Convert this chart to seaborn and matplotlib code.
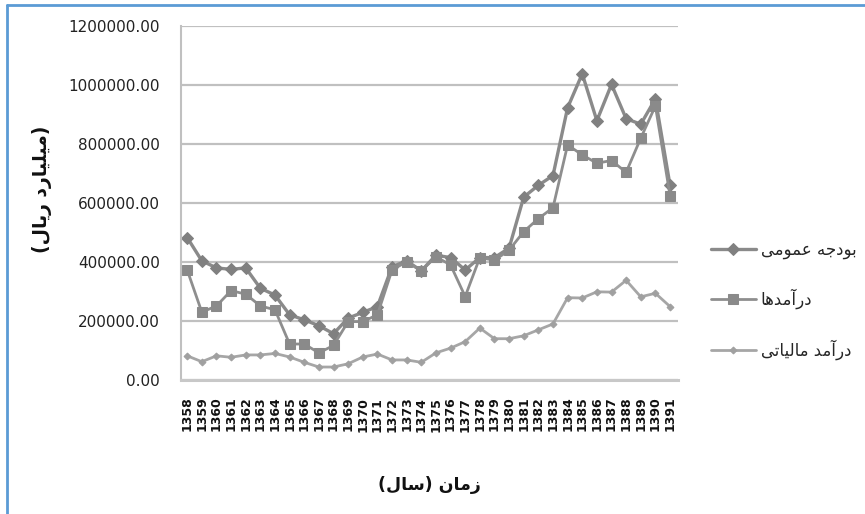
import pandas as pd
import matplotlib.pyplot as plt
from matplotlib.lines import Line2D
import seaborn as sns

# years on the x axis (categories)
years = [1358, 1359, 1360, 1361, 1362, 1363, 1364, 1365, 1366, 1367, 1368,
         1369, 1370, 1371, 1372, 1373, 1374, 1375, 1376, 1377, 1378, 1379,
         1380, 1381, 1382, 1383, 1384, 1385, 1386, 1387, 1388, 1389, 1390, 1391]

# general budget (بودجه عمومی)
budget = [483000, 404000, 380000, 375000, 380000, 311000, 288000, 221000,
          204000, 184000, 157000, 210000, 229000, 249000, 384000, 404000,
          370000, 423000, 415000, 373000, 415000, 415000, 447000, 620000,
          660000, 693000, 923000, 1038000, 879000, 1002000, 886000, 867000,
          953000, 660000]

# revenues (درآمدها)
revenue = [373000, 230000, 251000, 303000, 291000, 251000, 238000, 122000,
           122000, 92000, 117000, 198000, 198000, 221000, 373000, 401000,
           370000, 418000, 390000, 283000, 415000, 406000, 440000, 503000,
           547000, 584000, 797000, 763000, 735000, 744000, 704000, 820000,
           929000, 625000]

# tax revenue (درآمد مالیاتی)
tax = [82000, 62000, 82000, 77000, 85000, 85000, 90000, 78000, 60000, 44000,
       44000, 55000, 78000, 88000, 68000, 68000, 60000, 92000, 108000, 130000,
       176000, 140000, 140000, 150000, 170000, 190000, 279000, 278000, 299000,
       298000, 338000, 282000, 294000, 249000]

y_ticks = [0, 200000, 400000, 600000, 800000, 1000000, 1200000]

# Persian labels, written as presentation forms in visual (left-to-right) order
lbl_budget = "\uFEF0\uFEE3\uFEEE\uFEE4\uFECB \uFEEA\uFE9F\uFEA9\uFEEE\uFE91"   # بودجه عمومی
lbl_revenue = "\uFE8E\uFEEB\uFEAA\uFEE3\uFE81\uFEAD\uFEA9"                    # درآمدها
lbl_tax = "\uFEF0\uFE97\uFE8E\uFEF4\uFEDF\uFE8E\uFEE3 \uFEAA\uFEE3\uFE81\uFEAD\uFEA9"  # درآمد مالیاتی
x_title = "(\uFEDD\uFE8E\uFEB3) \uFEE5\uFE8E\uFEE3\uFEAF"                     # زمان (سال)
y_title = "(\uFEDD\uFE8E\uFEF3\uFEAD \uFEA9\uFEAD\uFE8E\uFEF4\uFEE0\uFEF4\uFEE3)"  # (میلیارد ریال)

sns.set_style("white")
plt.rcParams['font.family'] = ['DejaVu Sans']

df = pd.DataFrame({"pos": range(len(years)), "budget": budget,
                   "revenue": revenue, "tax": tax})

fig = plt.figure(figsize=(8.65, 5.14), dpi=100)
ax = fig.add_axes([0.2093, 0.2607, 0.5746, 0.6887])

sns.lineplot(data=df, x="pos", y="budget", ax=ax, color="#8a8a8a", lw=2.4,
             marker="D", markersize=6, markeredgecolor="#808080",
             markerfacecolor="#808080", label=lbl_budget)
sns.lineplot(data=df, x="pos", y="revenue", ax=ax, color="#8e8e8e", lw=2,
             marker="s", markersize=6.5, markeredgecolor="#8a8a8a",
             markerfacecolor="#8a8a8a", label=lbl_revenue)
sns.lineplot(data=df, x="pos", y="tax", ax=ax, color="#a6a6a6", lw=2,
             marker="D", markersize=3.5, markeredgecolor="#a0a0a0",
             markerfacecolor="#a0a0a0", label=lbl_tax)

ax.set_xlim(-0.42, 33.55)
ax.set_ylim(0, 1200000)
ax.set_yticks(y_ticks)
ax.set_yticklabels([f"{v:.2f}" for v in y_ticks], fontsize=11, color="#222222")
ax.set_xticks(range(len(years)))
ax.set_xticklabels([str(y) for y in years], rotation=90, fontsize=9,
                   fontweight="bold", color="#111111")
ax.tick_params(axis="y", length=0, pad=15)
ax.tick_params(axis="x", length=0, pad=12)

ax.grid(axis="y", color="#c0c0c0", lw=1.6)
ax.set_axisbelow(True)
for side in ["top", "right"]:
    ax.spines[side].set_visible(False)
ax.spines["left"].set_color("#c0c0c0")
ax.spines["left"].set_linewidth(1.5)
ax.spines["bottom"].set_color("#c8c8c8")
ax.spines["bottom"].set_linewidth(2.2)

ax.set_xlabel(x_title, fontsize=12.5, fontweight="bold", color="#111111")
ax.set_ylabel(y_title, fontsize=13.5, fontweight="bold", color="#111111")
ax.xaxis.set_label_coords(0.5, -0.27)
ax.yaxis.set_label_coords(-0.26, 0.54)

ax.legend(loc="center left", bbox_to_anchor=(0.812, 0.416),
          bbox_transform=fig.transFigure, frameon=False, fontsize=12,
          handlelength=2.7, handletextpad=0.3, labelspacing=1.8, borderpad=0)

# light blue frame around the figure (top and left edges visible)
fig.add_artist(Line2D([7 / 865, 1], [1 - 5 / 514, 1 - 5 / 514],
                      transform=fig.transFigure, color="#5b9bd5", lw=2))
fig.add_artist(Line2D([7 / 865, 7 / 865], [0, 1 - 5 / 514],
                      transform=fig.transFigure, color="#5b9bd5", lw=2))

fig.savefig("out.png", dpi=100)
